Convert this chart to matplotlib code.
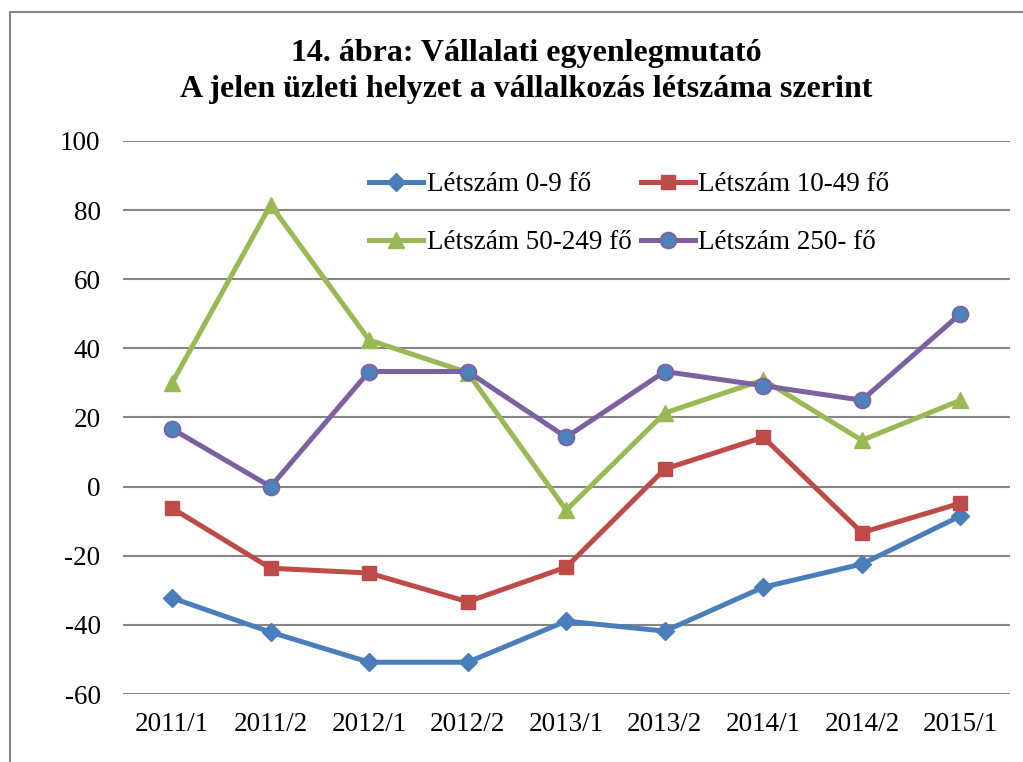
import numpy as np
import matplotlib.pyplot as plt
from matplotlib.patches import Rectangle

plt.rcParams['font.family'] = ['Liberation Serif', 'DejaVu Serif']
plt.rcParams['axes.unicode_minus'] = False

periods = ['2011/1', '2011/2', '2012/1', '2012/2', '2013/1', '2013/2', '2014/1', '2014/2', '2015/1']
size_0_9 = [-32.2, -42.1, -50.8, -50.8, -38.9, -41.8, -29.1, -22.4, -8.5]
size_10_49 = [-6.2, -23.6, -25.0, -33.3, -23.3, 5.1, 14.3, -13.3, -4.8]
size_50_249 = [30.0, 81.5, 42.4, 33.0, -6.8, 21.3, 30.9, 13.4, 25.0]
size_250 = [16.7, 0.0, 33.3, 33.3, 14.3, 33.3, 29.2, 25.0, 50.0]

labels = ['Létszám 0-9 fő', 'Létszám 10-49 fő', 'Létszám 50-249 fő', 'Létszám 250- fő']

fig = plt.figure(figsize=(10.23, 7.62), dpi=100)
ax = fig.add_axes([0.120, 0.0892, 0.867, 0.7258])

x = np.arange(len(periods))
lw = 3.6
l1, = ax.plot(x, size_0_9, color='#4A7EBB', lw=lw, marker='D', ms=9.5,
              mfc='#4A7EBB', mec='#4A7EBB', label=labels[0], zorder=5)
l2, = ax.plot(x, size_10_49, color='#BE4B48', lw=lw, marker='s', ms=10.5,
              mfc='#BE4B48', mec='#BE4B48', label=labels[1], zorder=5)
l3, = ax.plot(x, size_50_249, color='#98B954', lw=lw, marker='^', ms=11.5,
              mfc='#98B954', mec='#98B954', label=labels[2], zorder=5)
l4, = ax.plot(x, size_250, color='#7D60A0', lw=lw, marker='o', ms=11.5,
              mfc='#4F81BD', mec='#7D60A0', mew=1.2, label=labels[3], zorder=5)

ax.set_xlim(-0.5, len(periods) - 0.5)
ax.set_ylim(-60, 100)
ax.set_yticks(np.arange(-60, 101, 20))
ax.set_xticks(x)
ax.set_xticklabels(periods)
ax.tick_params(axis='both', length=0, labelsize=19.5, colors='black')
ax.tick_params(axis='y', pad=16)
ax.tick_params(axis='x', pad=13)
ax.grid(axis='y', color='#868686', lw=1.5)
ax.set_axisbelow(True)
for s in ax.spines.values():
    s.set_visible(False)

# legend is filled column by column, so interleave to get 0-9 / 10-49 on the first row
ax.legend(handles=[l1, l3, l2, l4], ncol=2, frameon=False, fontsize=19.5,
          loc='upper left', bbox_to_anchor=(0.278, 0.943), handlelength=2.0,
          handletextpad=0.12, columnspacing=0.35, labelspacing=1.2,
          borderaxespad=0, borderpad=0)

fig.text(0.514, 0.906, '14. ábra: Vállalati egyenlegmutató\nA jelen üzleti helyzet a vállalkozás létszáma szerint',
         ha='center', va='center', fontsize=23, fontweight='bold', linespacing=1.3)

fig.patches.append(Rectangle((10 / 1023, -0.1), 1.2, 1 - 12 / 762 + 0.1, transform=fig.transFigure,
                             fill=False, edgecolor='#868686', lw=1.5))

fig.savefig('out.png', dpi=100)
